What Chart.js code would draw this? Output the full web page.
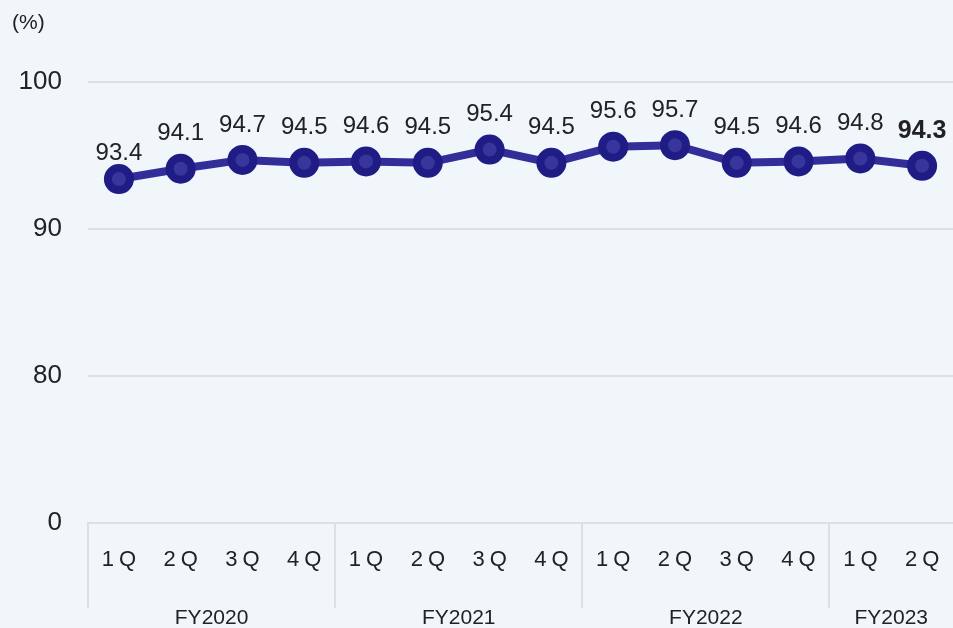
<!DOCTYPE html>
<html lang="en">
<head>
    <meta charset="UTF-8">
    <title>Quarterly Rate</title>
    <script src="https://cdn.jsdelivr.net/npm/chart.js"></script>
    <style>
        html, body {
            margin: 0;
            padding: 0;
            background-color: #f1f6fb;
        }
        #rateChart {
            display: block;
        }
    </style>
</head>
<body>

<canvas id="rateChart" width="953" height="628"></canvas>

<script>
    // Chart data
    const quarters = ['1Q', '2Q', '3Q', '4Q', '1Q', '2Q', '3Q', '4Q', '1Q', '2Q', '3Q', '4Q', '1Q', '2Q'];
    const fiscalYears = ['FY2020', 'FY2021', 'FY2022', 'FY2023'];
    const quartersPerYear = [4, 4, 4, 2];
    const rates = [93.4, 94.1, 94.7, 94.5, 94.6, 94.5, 95.4, 94.5, 95.6, 95.7, 94.5, 94.6, 94.8, 94.3];
    const yTickValues = [70, 80, 90, 100];
    const yTickLabels = ['0', '80', '90', '100'];

    const FONT = '"Liberation Sans", Arial, sans-serif';
    const TEXT = '#222222';
    const GRID = '#dcdfe3';

    // how far above the point each value label sits (first one sits lower)
    function labelLift(i) {
        return i === 0 ? 26 : 35;
    }

    const labelsPlugin = {
        id: 'labelsPlugin',
        afterDatasetsDraw(chart) {
            const ctx = chart.ctx;
            const meta = chart.getDatasetMeta(0);
            ctx.save();
            ctx.fillStyle = TEXT;
            ctx.textAlign = 'center';
            ctx.textBaseline = 'middle';
            meta.data.forEach((pt, i) => {
                const last = i === rates.length - 1;
                ctx.font = (last ? 'bold 25px ' : '24px ') + FONT;
                ctx.fillText(rates[i].toFixed(1), pt.x, pt.y - labelLift(i));
            });
            ctx.restore();
        },
        afterDraw(chart) {
            const ctx = chart.ctx;
            const x = chart.scales.x;
            const top = chart.chartArea.bottom;
            ctx.save();
            ctx.fillStyle = TEXT;
            ctx.textAlign = 'center';
            ctx.textBaseline = 'middle';

            // quarter labels
            ctx.font = '22px ' + FONT;
            const spacing = 5;
            if ('letterSpacing' in ctx) ctx.letterSpacing = spacing + 'px';
            quarters.forEach((q, i) => {
                ctx.fillText(q, x.getPixelForValue(i) + spacing / 2, top + 37);
            });
            if ('letterSpacing' in ctx) ctx.letterSpacing = '0px';

            // fiscal year labels
            ctx.font = '21px ' + FONT;
            let start = 0;
            fiscalYears.forEach((fy, g) => {
                const end = start + quartersPerYear[g] - 1;
                const cx = (x.getPixelForValue(start) + x.getPixelForValue(end)) / 2;
                ctx.fillText(fy, cx, top + 95);
                start = end + 1;
            });

            // unit
            ctx.font = '21px ' + FONT;
            ctx.textAlign = 'left';
            ctx.fillText('(%)', 12, 23);
            ctx.restore();
        }
    };

    const ctx = document.getElementById('rateChart').getContext('2d');
    new Chart(ctx, {
        type: 'line',
        data: {
            labels: quarters.map((q, i) => i),
            datasets: [{
                data: rates,
                borderColor: '#322e99',
                borderWidth: 8,
                pointRadius: 11,
                pointHoverRadius: 11,
                pointBorderWidth: 8,
                pointHoverBorderWidth: 8,
                pointBackgroundColor: '#38359c',
                pointBorderColor: '#1f1c85',
                tension: 0,
                clip: false
            }]
        },
        options: {
            responsive: false,
            animation: false,
            events: [],
            layout: {
                autoPadding: false,
                padding: { top: 82, left: 0, right: 0, bottom: 0 }
            },
            plugins: {
                legend: { display: false },
                tooltip: { enabled: false }
            },
            scales: {
                x: {
                    type: 'category',
                    offset: true,
                    ticks: { display: false },
                    grid: {
                        offset: true,
                        drawOnChartArea: false,
                        drawTicks: true,
                        tickLength: 85,
                        lineWidth: 2,
                        color: c => (c.index !== undefined && c.index % 4 === 0) ? GRID : 'rgba(0,0,0,0)'
                    },
                    border: { display: true, color: GRID, width: 2 },
                    afterFit: scale => { scale.height = 105; }
                },
                y: {
                    min: 70,
                    max: 100,
                    afterBuildTicks: scale => {
                        scale.ticks = yTickValues.map(v => ({ value: v }));
                    },
                    ticks: {
                        padding: 26,
                        color: TEXT,
                        font: { family: FONT, size: 26 },
                        callback: value => yTickLabels[yTickValues.indexOf(value)]
                    },
                    grid: {
                        drawTicks: false,
                        color: GRID,
                        lineWidth: 2
                    },
                    border: { display: false },
                    afterFit: scale => { scale.width = 88; }
                }
            }
        },
        plugins: [labelsPlugin]
    });
</script>

</body>
</html>
